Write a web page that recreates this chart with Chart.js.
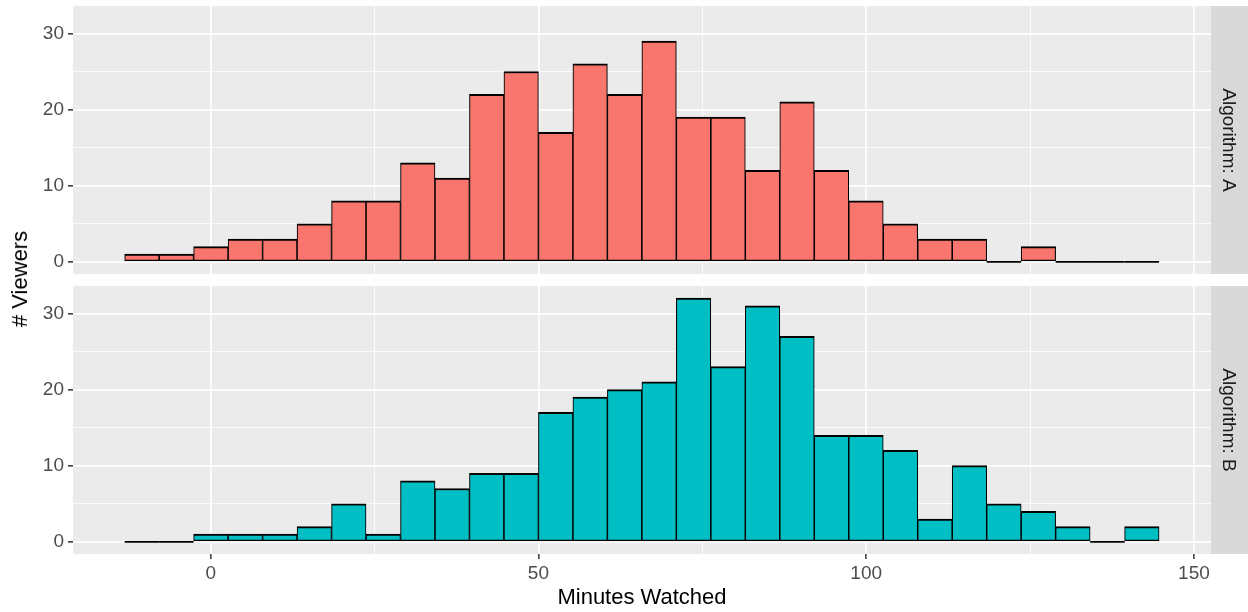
<!DOCTYPE html>
<html lang="en">
<head>
<meta charset="UTF-8">
<title>Minutes Watched by Algorithm</title>
<script src="https://cdn.jsdelivr.net/npm/chart.js"></script>
<style>
    html, body { margin: 0; padding: 0; background: #fff; }
    body { width: 1248px; height: 612px; position: relative; overflow: hidden; font-family: "Liberation Sans", Arial, sans-serif; }
    .panel { position: absolute; left: 0; width: 1248px; }
    #panelA { top: 0; height: 280px; }
    #panelB { top: 280px; height: 332px; }
    .y-title { position: absolute; left: 20px; top: 279px; transform: translate(-50%, -50%) rotate(-90deg); font-size: 22px; color: #000; white-space: nowrap; }
</style>
</head>
<body>
    <div class="panel" id="panelA"><canvas id="chartA"></canvas></div>
    <div class="panel" id="panelB"><canvas id="chartB"></canvas></div>
    <div class="y-title"># Viewers</div>

<script>
// bin centres (minutes), bin width ~5.26
const binCenters = [-10.49, -5.23, 0.03, 5.29, 10.55, 15.81, 21.07, 26.33, 31.59, 36.85,
                    42.11, 47.37, 52.63, 57.89, 63.15, 68.41, 73.67, 78.93, 84.19, 89.45,
                    94.71, 99.97, 105.23, 110.49, 115.75, 121.01, 126.27, 131.53, 136.79, 142.05];
const viewersA = [1, 1, 2, 3, 3, 5, 8, 8, 13, 11, 22, 25, 17, 26, 22, 29, 19, 19, 12, 21, 12, 8, 5, 3, 3, 0, 2, 0, 0, 0];
const viewersB = [0, 0, 1, 1, 1, 2, 5, 1, 8, 7, 9, 9, 17, 19, 20, 21, 32, 23, 31, 27, 14, 14, 12, 3, 10, 5, 4, 2, 0, 2];

const xTicks = [0, 25, 50, 75, 100, 125, 150];
const xLabels = [0, 50, 100, 150];
const yTicks = [0, 5, 10, 15, 20, 25, 30];
const yLabels = [0, 10, 20, 30];

Chart.defaults.font.family = '"Liberation Sans", Arial, sans-serif';

// grey panel background
const panelBg = {
    id: 'panelBg',
    beforeDraw(chart) {
        const a = chart.chartArea;
        const ctx = chart.ctx;
        ctx.save();
        ctx.fillStyle = '#EBEBEB';
        ctx.fillRect(a.left, a.top, a.width, a.height);
        ctx.restore();
    }
};

// empty bins still get a flat outline like ggplot
const zeroBins = {
    id: 'zeroBins',
    afterDatasetsDraw(chart) {
        const meta = chart.getDatasetMeta(0);
        const data = chart.data.datasets[0].data;
        const ctx = chart.ctx;
        ctx.save();
        ctx.strokeStyle = '#000';
        ctx.lineWidth = 1.8;
        meta.data.forEach((bar, i) => {
            if (data[i].y !== 0) return;
            const p = bar.getProps(['x', 'width', 'base']);
            ctx.beginPath();
            ctx.moveTo(p.x - p.width / 2, p.base);
            ctx.lineTo(p.x + p.width / 2, p.base);
            ctx.stroke();
        });
        ctx.restore();
    }
};

function makePanel(id, values, color, stripLabel, showX) {
    const isMajorX = c => c.tick && xLabels.includes(c.tick.value);
    const isMajorY = c => c.tick && yLabels.includes(c.tick.value);

    return new Chart(document.getElementById(id), {
        type: 'bar',
        data: {
            datasets: [{
                data: binCenters.map((x, i) => ({ x: x, y: values[i] })),
                backgroundColor: color,
                borderColor: '#000',
                borderWidth: { top: 2, bottom: 1.6, left: 1.1, right: 1.1 },
                borderSkipped: false,
                barPercentage: 1,
                categoryPercentage: 1,
                grouped: false
            }]
        },
        options: {
            responsive: true,
            maintainAspectRatio: false,
            animation: false,
            layout: { padding: { top: 6, bottom: showX ? 0 : 6, left: 0, right: 0 } },
            plugins: { legend: { display: false }, tooltip: { enabled: false } },
            scales: {
                x: {
                    type: 'linear',
                    min: -21.0,
                    max: 152.6,
                    offset: false,
                    afterBuildTicks: s => { s.ticks = xTicks.map(v => ({ value: v })); },
                    afterFit: s => { s.height = showX ? 58 : 0; s.paddingLeft = 0; s.paddingRight = 0; },
                    grid: {
                        offset: false,
                        color: '#FFFFFF',
                        lineWidth: c => isMajorX(c) ? 1.7 : 0.8,
                        drawTicks: showX,
                        tickLength: 5,
                        tickWidth: 1.5,
                        tickColor: c => isMajorX(c) ? '#333333' : 'rgba(0,0,0,0)'
                    },
                    border: { display: false },
                    ticks: {
                        display: showX,
                        autoSkip: false,
                        maxRotation: 0,
                        padding: 3,
                        color: '#4D4D4D',
                        font: { size: 19 },
                        callback: v => xLabels.includes(v) ? String(v) : ''
                    },
                    title: {
                        display: showX,
                        text: 'Minutes Watched',
                        color: '#000',
                        font: { size: 22 },
                        padding: { top: 0, bottom: 1 }
                    }
                },
                y: {
                    min: -1.6,
                    max: 33.6,
                    afterBuildTicks: s => { s.ticks = yTicks.map(v => ({ value: v })); },
                    afterFit: s => { s.width = 73; s.paddingTop = 0; s.paddingBottom = 0; },
                    grid: {
                        color: '#FFFFFF',
                        lineWidth: c => isMajorY(c) ? 1.7 : 0.8,
                        tickLength: 5,
                        tickWidth: 1.5,
                        tickColor: c => isMajorY(c) ? '#333333' : 'rgba(0,0,0,0)'
                    },
                    border: { display: false },
                    ticks: {
                        padding: 4,
                        color: '#4D4D4D',
                        font: { size: 19 },
                        callback: v => yLabels.includes(v) ? String(v) : ''
                    }
                },
                strip: {
                    type: 'linear',
                    position: 'right',
                    backgroundColor: '#D9D9D9',
                    afterFit: s => { s.width = 37; s.paddingTop = 0; s.paddingBottom = 0; },
                    grid: { display: false, drawTicks: false },
                    border: { display: false },
                    ticks: { display: false },
                    title: {
                        display: true,
                        text: stripLabel,
                        color: '#1A1A1A',
                        font: { size: 19 },
                        padding: { top: 8, bottom: 0 }
                    }
                }
            }
        },
        plugins: [panelBg, zeroBins]
    });
}

makePanel('chartA', viewersA, '#F8766D', 'Algorithm: A', false);
makePanel('chartB', viewersB, '#00BFC4', 'Algorithm: B', true);
</script>
</body>
</html>
